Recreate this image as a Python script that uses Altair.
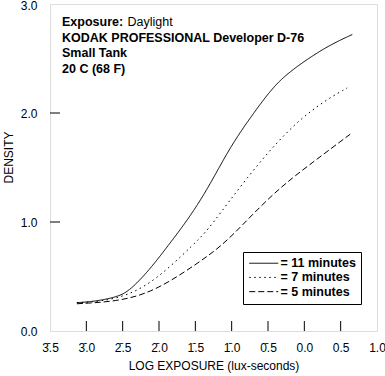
import altair as alt
import pandas as pd

# ---- data ----
SERIES = ["11 minutes", "7 minutes", "5 minutes"]

x_11 = [-3.13, -2.9, -2.58, -2.4, -2.12, -1.89, -1.57, -1.30, -1.02, -0.72, -0.43, -0.2, 0.12, 0.4, 0.66]
y_11 = [0.26, 0.27, 0.31, 0.37, 0.57, 0.77, 1.05, 1.34, 1.69, 1.98, 2.24, 2.38, 2.53, 2.64, 2.72]

x_7 = [-3.13, -2.8, -2.4, -2.03, -1.67, -1.44, -1.30, -0.79, -0.24, 0.22, 0.59]
y_7 = [0.26, 0.27, 0.33, 0.48, 0.70, 0.85, 0.95, 1.41, 1.84, 2.09, 2.23]

x_5 = [-3.13, -2.58, -2.12, -1.67, -1.30, -1.02, -0.43, 0.12, 0.66]
y_5 = [0.25, 0.27, 0.35, 0.53, 0.70, 0.85, 1.27, 1.55, 1.82]

X_TICKS = [-3.5, -3.0, -2.5, -2.0, -1.5, -1.0, -0.5, 0.0, 0.5, 1.0]
X_LABELS = ["3\u0304.5", "3\u0304.0", "2\u0304.5", "2\u0304.0", "1\u0304.5",
            "1\u0304.0", "0\u0304.5", "0.0", "0.5", "1.0"]
Y_TICKS = [0.0, 1.0, 2.0, 3.0]
X_INNER_TICKS = X_TICKS[1:-1]
Y_INNER_TICKS = Y_TICKS[1:-1]

NOTE_LINES = ["KODAK PROFESSIONAL Developer D-76", "Small Tank", "20 C (68 F)"]

FONT = "Liberation Sans"

rows = []
for name, xs, ys in [(SERIES[0], x_11, y_11), (SERIES[1], x_7, y_7), (SERIES[2], x_5, y_5)]:
    for a, b in zip(xs, ys):
        rows.append({"series": name, "x": a, "y": b})
df = pd.DataFrame(rows)

W, H = 327, 327
xscale = alt.Scale(domain=[-3.5, 1.0], nice=False, zero=False)
yscale = alt.Scale(domain=[0, 3], nice=False, zero=False)

label_expr = ("[" + ",".join("'" + s + "'" for s in X_LABELS) +
              "][round((datum.value + 3.5) * 2)]")

x_axis = alt.Axis(values=X_TICKS, labelExpr=label_expr, tickSize=0, domain=False, grid=False,
                  labelPadding=11, labelFont=FONT, labelFontSize=12, labelColor="black",
                  labelOverlap=False, labelBound=False, labelFlush=False,
                  title="LOG EXPOSURE (lux-seconds)", titleFont=FONT, titleFontSize=12,
                  titleFontWeight="normal", titleColor="black", titleBaseline="middle", titleY=34)
y_axis = alt.Axis(values=Y_TICKS, format=".1f", tickSize=0, domain=False, grid=False,
                  labelPadding=13, labelFont=FONT, labelFontSize=12, labelColor="black",
                  labelFlush=False, labelOverlap=False,
                  labelOffset={"condition": {"test": "datum.value >= 3", "value": 1.5}, "value": 0},
                  title="DENSITY", titleFont=FONT, titleFontSize=12, titleFontWeight="normal",
                  titleColor="black", titleAngle=270, titleX=-42, titleY=153,
                  titleAlign="center", titleBaseline="middle")

lines = alt.Chart(df).mark_line(color="black", strokeWidth=1, interpolate="basis").encode(
    x=alt.X("x:Q", scale=xscale, axis=x_axis),
    y=alt.Y("y:Q", scale=yscale, axis=y_axis),
    strokeDash=alt.StrokeDash("series:N",
                              scale=alt.Scale(domain=SERIES, range=[[1, 0], [1.5, 3.5], [6, 3]]),
                              sort=SERIES,
                              legend=alt.Legend(orient="none", legendX=193, legendY=248, title=None,
                                                strokeColor="black", fillColor="white", padding=5,
                                                symbolType="M-1,0H4.8", symbolSize=100,
                                                symbolStrokeWidth=1, symbolStrokeColor="black",
                                                symbolFillColor="transparent",
                                                labelOffset=20, labelFont=FONT, labelFontSize=12.5,
                                                labelFontWeight="bold", labelColor="black",
                                                labelExpr="'= ' + datum.label",
                                                rowPadding=1.2)),
)

yt = alt.Chart(pd.DataFrame({"v": Y_INNER_TICKS})).mark_rule(color="black", strokeWidth=1).encode(
    y=alt.Y("v:Q", scale=yscale, axis=y_axis), x=alt.value(0), x2=alt.value(10))
xt = alt.Chart(pd.DataFrame({"v": X_INNER_TICKS})).mark_rule(color="black", strokeWidth=1).encode(
    x=alt.X("v:Q", scale=xscale, axis=x_axis), y=alt.value(H), y2=alt.value(H - 10))


def note_text(text, x, y, weight):
    return alt.Chart(pd.DataFrame({"t": [text]})).mark_text(
        align="left", baseline="alphabetic", font=FONT, fontSize=12.5, fontWeight=weight, color="black"
    ).encode(text="t:N", x=alt.value(x), y=alt.value(y))


notes = [note_text("Exposure:", 12, 21.7, "bold"), note_text("Daylight", 77.5, 21.7, "normal")]
for i, line in enumerate(NOTE_LINES):
    notes.append(note_text(line, 12, 37.5 + 15.5 * i, "bold"))

chart = alt.layer(lines, yt, xt, *notes).properties(
    width=W, height=H,
    autosize=alt.AutoSizeParams(type="none"),
    padding={"left": 50, "top": 4, "right": 8, "bottom": 45},
).configure_view(stroke="black", strokeWidth=1).configure(background="white")

chart.save("out.html", embed_options={"renderer": "svg", "actions": False})
